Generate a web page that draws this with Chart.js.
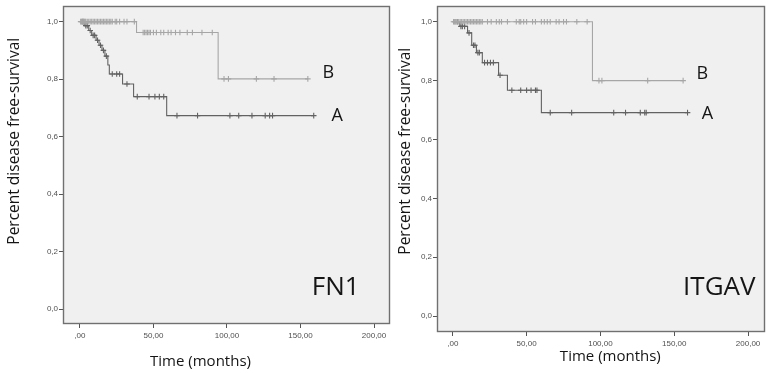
<!DOCTYPE html>
<html>
<head>
<meta charset="utf-8">
<script src="https://cdn.jsdelivr.net/npm/chart.js@4.4.1/dist/chart.umd.min.js"></script>
<style>
  html, body { margin: 0; padding: 0; background: #ffffff; }
  #wrap { position: relative; width: 770px; height: 373px; overflow: hidden; }
  canvas { position: absolute; top: 0; }
  #c1 { left: 0; }
  #c2 { left: 395px; }
</style>
</head>
<body>
<div id="wrap">
  <canvas id="c1" width="395" height="373"></canvas>
  <canvas id="c2" width="375" height="373"></canvas>
</div>
<script>
// ---------- tick labels ----------
const xTickValues = [0, 50, 100, 150, 200];
const xTickLabels = [',00', '50,00', '100,00', '150,00', '200,00'];
const yTickValues = [0, 0.2, 0.4, 0.6, 0.8, 1.0];
const yTickLabels = ['0,0', '0,2', '0,4', '0,6', '0,8', '1,0'];

// ---------- FN1, group A ----------
const fn1A_eventTimes = [3, 6, 8, 11, 13, 15, 17, 19, 20, 29, 36.5, 59];
const fn1A_eventSurv  = [0.986, 0.969, 0.952, 0.935, 0.918, 0.900, 0.880, 0.849, 0.818, 0.783, 0.739, 0.673];
const fn1A_censorTimes = [2, 4, 5, 7, 9, 10, 12, 14, 16, 18, 22, 25, 27, 32, 39, 47, 51, 54, 57, 66, 80, 102, 108, 117, 126, 129, 131, 159];

// ---------- FN1, group B ----------
const fn1B_eventTimes = [38.5, 94];
const fn1B_eventSurv  = [0.962, 0.801];
const fn1B_censorTimes = [0.5, 1, 1.5, 2, 2.5, 3, 3.5, 4, 5, 6, 7, 8, 9, 10, 11, 12, 13, 14, 15, 16, 17, 18, 19, 20, 21, 22, 24,
  25, 27, 30, 32, 37, 43, 44, 45, 46, 47, 48, 50, 52, 55, 57, 60, 62, 65, 68, 73, 76.5, 83, 90, 98, 101, 120, 132, 155];

// ---------- ITGAV, group A ----------
const itgA_eventTimes = [4.7, 10, 12.8, 16, 20, 31, 37, 60];
const itgA_eventSurv  = [0.984, 0.962, 0.920, 0.895, 0.861, 0.818, 0.767, 0.691];
const itgA_censorTimes = [3, 5.5, 6.5, 8, 11, 14, 15, 17, 18, 21.5, 23.5, 25.5, 27.5, 32, 40, 46, 50, 53, 56, 57, 66, 80.5, 109, 117, 127, 130, 131, 159];

// ---------- ITGAV, group B ----------
const itgB_eventTimes = [94.6];
const itgB_eventSurv  = [0.800];
const itgB_censorTimes = [0.5, 1, 1.5, 2, 3, 4, 5, 6, 7, 8, 9, 10, 11, 12, 13, 14, 15, 16, 17, 18, 19, 20,
  23.5, 26, 29.5, 31.5, 33, 37, 43, 45, 46, 48, 50, 54, 56, 60, 62, 64, 66, 70, 72, 75, 77, 84, 91, 99, 101, 132, 156];

// ---------- helpers ----------
function survivalAt(evT, evS, t) {
  let s = 1;
  for (let i = 0; i < evT.length; i++) { if (evT[i] <= t) s = evS[i]; }
  return s;
}
function stepCurve(evT, evS, censT) {
  const pts = [{ x: 0, y: 1 }];
  for (let i = 0; i < evT.length; i++) pts.push({ x: evT[i], y: evS[i] });
  const end = Math.max(...censT, ...evT);
  pts.push({ x: end, y: survivalAt(evT, evS, end) });
  return pts;
}
function censorPoints(evT, evS, censT) {
  return censT.map(t => ({ x: t, y: survivalAt(evT, evS, t) }));
}

const COLOR_A = '#626262';
const COLOR_B = '#a6a6a6';
const TEXT_FONT = "'Open Sans', 'DejaVu Sans', sans-serif";

function groupDatasets(evT, evS, censT, color) {
  return [
    { data: stepCurve(evT, evS, censT), showLine: true, stepped: true, borderColor: color, borderWidth: 1.1,
      pointRadius: 0, fill: false },
    { data: censorPoints(evT, evS, censT), showLine: false, pointStyle: 'cross', pointRadius: 2.8,
      borderColor: color, borderWidth: 1.1 }
  ];
}

function makeChart(id, datasets, lay, texts) {
  const frame = {
    id: 'kmFrame',
    beforeDatasetsDraw(chart) {
      const a = chart.chartArea, ctx = chart.ctx;
      ctx.save();
      ctx.fillStyle = '#f0f0f0';
      ctx.fillRect(a.left, a.top, a.right - a.left, a.bottom - a.top);
      ctx.restore();
    },
    afterDraw(chart) {
      const a = chart.chartArea, ctx = chart.ctx;
      ctx.save();
      ctx.strokeStyle = '#707070';
      ctx.lineWidth = 1.4;
      ctx.strokeRect(Math.round(a.left) + 0.5, Math.round(a.top) + 0.5,
        Math.round(a.right - a.left) - 1, Math.round(a.bottom - a.top) - 1);
      const xs = chart.scales.x, ys = chart.scales.y;
      texts.forEach(t => {
        ctx.save();
        ctx.translate(xs.getPixelForValue(t.x), ys.getPixelForValue(t.y));
        if (t.rot) ctx.rotate(t.rot);
        ctx.font = t.size + 'px ' + TEXT_FONT;
        ctx.fillStyle = t.color || '#151515';
        ctx.textAlign = 'center';
        ctx.textBaseline = 'middle';
        ctx.fillText(t.text, 0, 0);
        ctx.restore();
      });
      ctx.restore();
    }
  };
  return new Chart(document.getElementById(id), {
    type: 'scatter',
    data: { datasets },
    options: {
      responsive: false,
      animation: false,
      devicePixelRatio: 1,
      layout: { padding: { left: 0, top: lay.top, right: lay.right, bottom: 0 } },
      plugins: { legend: { display: false }, tooltip: { enabled: false } },
      scales: {
        x: {
          type: 'linear', min: lay.xmin, max: lay.xmax,
          afterBuildTicks: s => { s.ticks = xTickValues.map(v => ({ value: v })); },
          afterFit: s => { s.height = lay.xh; },
          border: { display: false },
          grid: { drawOnChartArea: false, drawTicks: true, tickLength: 4, color: '#555', lineWidth: 1 },
          ticks: {
            padding: 3, color: '#505050', font: { family: "'Liberation Sans', Arial, sans-serif", size: 8 },
            maxRotation: 0, autoSkip: false,
            callback: (v) => { const i = xTickValues.indexOf(v); return i >= 0 ? xTickLabels[i] : ''; }
          }
        },
        y: {
          type: 'linear', min: lay.ymin, max: lay.ymax,
          afterBuildTicks: s => { s.ticks = yTickValues.map(v => ({ value: v })); },
          afterFit: s => { s.width = lay.yw; },
          border: { display: false },
          grid: { drawOnChartArea: false, drawTicks: true, tickLength: 4, color: '#555', lineWidth: 1 },
          ticks: {
            padding: 1, color: '#505050', font: { family: "'Liberation Sans', Arial, sans-serif", size: 8 },
            autoSkip: false,
            callback: (v) => { const i = yTickValues.findIndex(t => Math.abs(t - v) < 1e-9); return i >= 0 ? yTickLabels[i] : ''; }
          }
        }
      }
    },
    plugins: [frame]
  });
}

// ---------- FN1 panel ----------
makeChart('c1',
  [...groupDatasets(fn1B_eventTimes, fn1B_eventSurv, fn1B_censorTimes, COLOR_B),
   ...groupDatasets(fn1A_eventTimes, fn1A_eventSurv, fn1A_censorTimes, COLOR_A)],
  { top: 2, right: 3, xh: 49, yw: 63, xmin: -11.5, xmax: 210.8, ymin: -0.0515, ymax: 1.055 },
  [
    { text: 'B', x: 169, y: 0.821, size: 18 },
    { text: 'A', x: 175, y: 0.672, size: 18 },
    { text: 'FN1', x: 174, y: 0.074, size: 26 },
    { text: 'Time (months)', x: 82, y: -0.182, size: 15 },
    { text: 'Percent disease free-survival', x: -44.6, y: 0.584, size: 15.5, rot: -Math.PI / 2 }
  ]);

// ---------- ITGAV panel ----------
makeChart('c2',
  [...groupDatasets(itgB_eventTimes, itgB_eventSurv, itgB_censorTimes, COLOR_B),
   ...groupDatasets(itgA_eventTimes, itgA_eventSurv, itgA_censorTimes, COLOR_A)],
  { top: 2, right: 2, xh: 41, yw: 42, xmin: -10.7, xmax: 211.4, ymin: -0.054, ymax: 1.054 },
  [
    { text: 'B', x: 169, y: 0.822, size: 18 },
    { text: 'A', x: 172.5, y: 0.686, size: 18 },
    { text: 'ITGAV', x: 180.5, y: 0.0956, size: 26 },
    { text: 'Time (months)', x: 106.7, y: -0.138, size: 15 },
    { text: 'Percent disease free-survival', x: -32.2, y: 0.560, size: 15.5, rot: -Math.PI / 2 }
  ]);
</script>
</body>
</html>
